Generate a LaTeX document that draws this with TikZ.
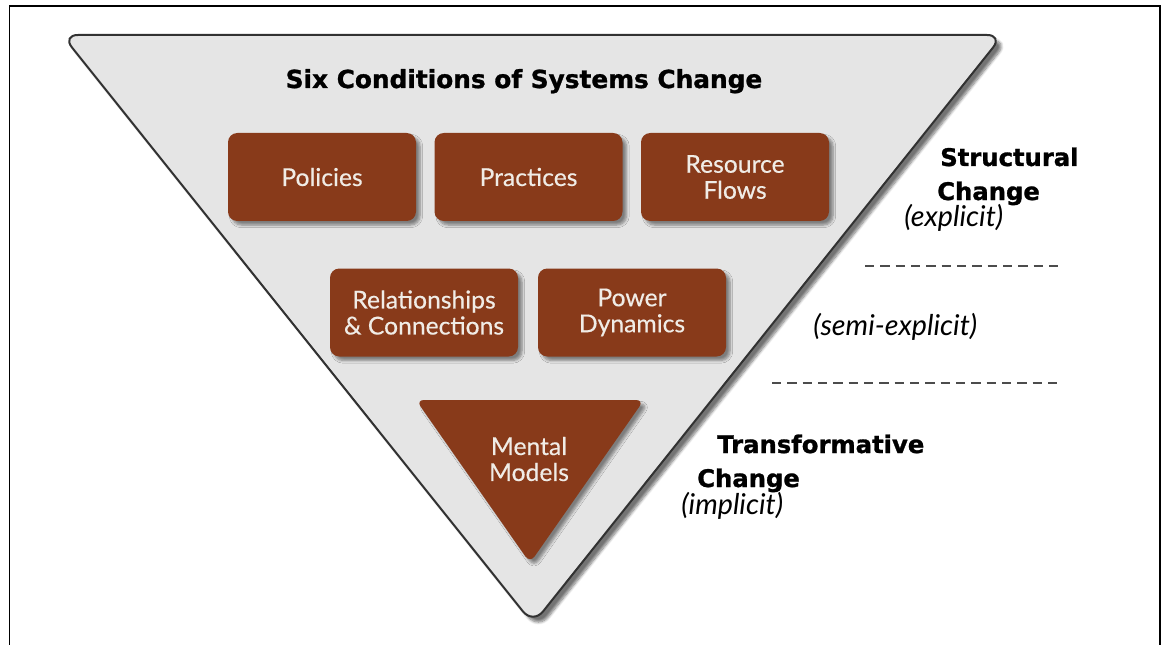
\documentclass[tikz,border=0pt]{standalone}
\usepackage{fontspec}
\setmainfont{Lato}
\newfontfamily\headfont{DejaVu Sans}[BoldFeatures={FakeBold=1.2}]
\newfontfamily\boxfont{Lato}[FakeBold=0.4]
\usetikzlibrary{shadows.blur}
\definecolor{condbrown}{RGB}{136,58,26}
\definecolor{funnelgray}{RGB}{229,229,229}
\definecolor{boxtext}{RGB}{240,236,230}
\definecolor{edgegray}{RGB}{50,50,50}

\begin{document}
\begin{tikzpicture}[x=0.75pt,y=0.75pt,yscale=-1,xscale=1,
  cond/.style={fill=condbrown, rounded corners=7pt, minimum width=141pt, minimum height=66pt, inner sep=0pt,
    text=boxtext, align=center, font=\boxfont\fontsize{18.5}{19.5}\selectfont,
    blur shadow={shadow xshift=3pt, shadow yshift=-3pt, shadow opacity=45, shadow blur steps=6}},
  heading/.style={inner sep=0pt, font=\headfont\fontsize{18.2}{22}\selectfont\bfseries},
  remark/.style={inner sep=0pt, font=\fontsize{21.5}{24}\selectfont\itshape},
  sepline/.style={draw=black!70, line width=1.1pt, dash pattern=on 7pt off 4.5pt}]
\useasboundingbox (0,0) rectangle (1162,645);

%Frame
\draw [line width=1.3pt] (9.5,645) -- (9.5,6) -- (1160,6) -- (1160,645);

%Shape: Funnel
\draw [draw=edgegray, line width=1.5pt, fill=funnelgray, rounded corners=12pt,
  blur shadow={shadow xshift=4pt, shadow yshift=-4pt, shadow opacity=55, shadow blur steps=8}]
  (62,35) -- (1003,35) -- (533,624) -- cycle;

% Title
\node [anchor=base, font=\headfont\fontsize{18.6}{22}\selectfont\bfseries] (title) at (524,88) {Six Conditions of Systems Change};

% Conditions
\node [cond] (policies) at (322,177) {Policies};
\node [cond] (practices) at (528.5,177) {Practices};
\node [cond] (flows) at (735,177) {Resource\\Flows};
\node [cond] (relations) at (424,312.5) {Relationships\\\& Connections};
\node [cond] (power) at (632,312.5) {Power\\Dynamics};

%Shape: Mental models
\draw [fill=condbrown, draw=none, rounded corners=6pt,
  blur shadow={shadow xshift=3pt, shadow yshift=-3pt, shadow opacity=45, shadow blur steps=6}]
  (416,400) -- (644,400) -- (530,563) -- cycle;
\node [align=center, text=boxtext, font=\boxfont\fontsize{18.5}{19.5}\selectfont] (mental) at (529,459) {Mental\\Models};

% Side labels
\node [heading, anchor=base west] (structural) at (940,166) {Structural};
\node [heading, anchor=base west] (change1) at (937,200) {Change};
\node [remark, anchor=base west] (explicit) at (904,226) {(explicit)};
\node [remark, anchor=base west] (semi) at (813,335) {(semi-explicit)};
\node [heading, anchor=base west] (transform) at (717,453) {Transformative};
\node [heading, anchor=base west] (change2) at (697,487) {Change};
\node [remark, anchor=base west] (implicit) at (681,514) {(implicit)};

%Dashed separators
\draw [sepline] (865,266) -- (1062,266);
\draw [sepline] (772,383) -- (1062,383);

\end{tikzpicture}
\end{document}
